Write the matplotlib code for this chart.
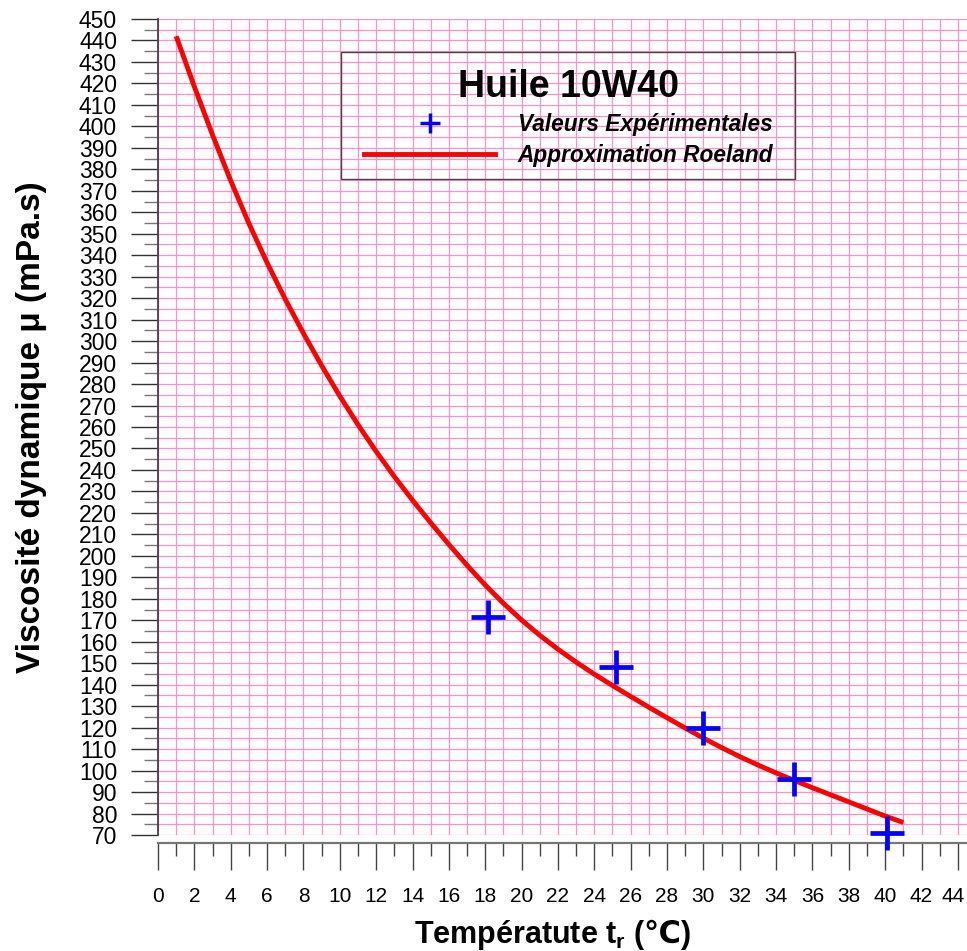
import matplotlib
matplotlib.use("Agg")
import matplotlib.pyplot as plt
from matplotlib.ticker import MultipleLocator
from matplotlib.lines import Line2D
from matplotlib.patches import Rectangle
from matplotlib.transforms import ScaledTranslation

plt.rcParams['font.family'] = ['Liberation Sans', 'DejaVu Sans']
plt.rcParams['mathtext.fontset'] = 'custom'
plt.rcParams['mathtext.bf'] = 'Liberation Sans:bold'
plt.rcParams['mathtext.rm'] = 'Liberation Sans:bold'
plt.rcParams['mathtext.sf'] = 'DejaVu Sans:bold'

# -------------------------------
# Data
# -------------------------------

# Experimental values
temp_exp = [18.15, 25.2, 30.0, 35.0, 40.1]
visc_exp = [171.5, 148, 120, 96, 71]

# Roeland approximation curve
temp_fit = list(range(1, 42))
visc_fit = [442, 418.5, 396, 374.7, 354.8, 336.5, 319.5, 303.6, 288.6, 274.4,
            261.1, 248.6, 236.9, 225.9, 215.4, 205.3, 195.6, 186.4, 177.9, 170.1,
            163.0, 156.5, 150.5, 144.9, 139.6, 134.5, 129.5, 124.6, 119.8, 115.1,
            110.7, 106.5, 102.6, 98.9, 95.4, 92.0, 88.7, 85.4, 82.1, 78.8,
            75.8]

x_ticks = list(range(0, 45, 2))
y_ticks = list(range(70, 451, 10))

title = "Huile 10W40"
label_exp = "Valeurs Expérimentales"
label_fit = "Approximation Roeland"

# -------------------------------
# Figure
# -------------------------------

fig = plt.figure(figsize=(9.67, 9.51), dpi=100)
ax = fig.add_axes([0.1634, 0.1220, 1 - 0.1634, 0.858])

ax.set_xlim(0, 44.5)
ax.set_ylim(70, 450)

# pink millimetre-paper grid
ax.xaxis.set_minor_locator(MultipleLocator(1))
ax.yaxis.set_minor_locator(MultipleLocator(5))
ax.set_xticks(x_ticks)
ax.set_yticks(y_ticks)
ax.grid(True, which='both', color='#ff90cb', linewidth=0.9)
ax.set_axisbelow(True)

ax.plot(temp_fit, visc_fit, color='red', linewidth=3.5,
        solid_joinstyle='round', solid_capstyle='butt', zorder=3)
ax.plot(temp_exp, visc_exp, linestyle='none', marker='+', markersize=25,
        markeredgewidth=3.4, color='blue', zorder=4, clip_on=False)

# spines
ax.spines['top'].set_visible(False)
ax.spines['right'].set_visible(False)
ax.spines['left'].set_color('#4a4048')
ax.spines['left'].set_linewidth(1.3)
ax.spines['bottom'].set_position(('outward', 6))
ax.spines['bottom'].set_color('#777777')
ax.spines['bottom'].set_linewidth(1.6)

ax.tick_params(axis='x', which='major', length=19.5, width=1, color='#444444',
               pad=12, labelsize=15)
ax.tick_params(axis='x', which='minor', length=9.5, width=1, color='#444444')
ax.tick_params(axis='y', which='major', length=19.5, width=1, color='#333333',
               pad=10, labelsize=16.5)
ax.tick_params(axis='y', which='minor', length=10, width=1, color='#777777')

# keep the last x label inside the picture
last = ax.get_xticklabels()[-1]
last.set_transform(last.get_transform() + ScaledTranslation(-0.05, 0, fig.dpi_scale_trans))

ax.set_xlabel(r"Températute $\mathbf{t_r}$ ($\mathsf{℃}$)", fontsize=22, fontweight='bold')
ax.set_ylabel("Viscosité dynamique μ (mPa.s)", fontsize=24, fontweight='bold')
ax.xaxis.set_label_coords(0.488, -0.100)
ax.yaxis.set_label_coords(-0.137, 0.5)

# -------------------------------
# Legend (frame drawn separately)
# -------------------------------

ax.add_patch(Rectangle((0.2262, 0.8039), 0.5612, 0.1556, transform=ax.transAxes,
                       facecolor='none', edgecolor='#444444', linewidth=1.0, zorder=5))

handles = [
    Line2D([], [], linestyle='none', marker='+', markersize=15,
           markeredgewidth=2.5, color='blue'),
    Line2D([], [], color='red', linewidth=3.5),
]
leg = ax.legend(handles, [label_exp, label_fit], title=title,
                loc='upper left', bbox_to_anchor=(0.2546, 0.9385),
                borderaxespad=0, frameon=False, borderpad=0,
                prop={'size': 16.3, 'weight': 'bold', 'style': 'italic'},
                title_fontproperties={'size': 27, 'weight': 'bold'},
                handlelength=5.8, handletextpad=1.0, labelspacing=0.35)

fig.savefig("out.png", dpi=100)
